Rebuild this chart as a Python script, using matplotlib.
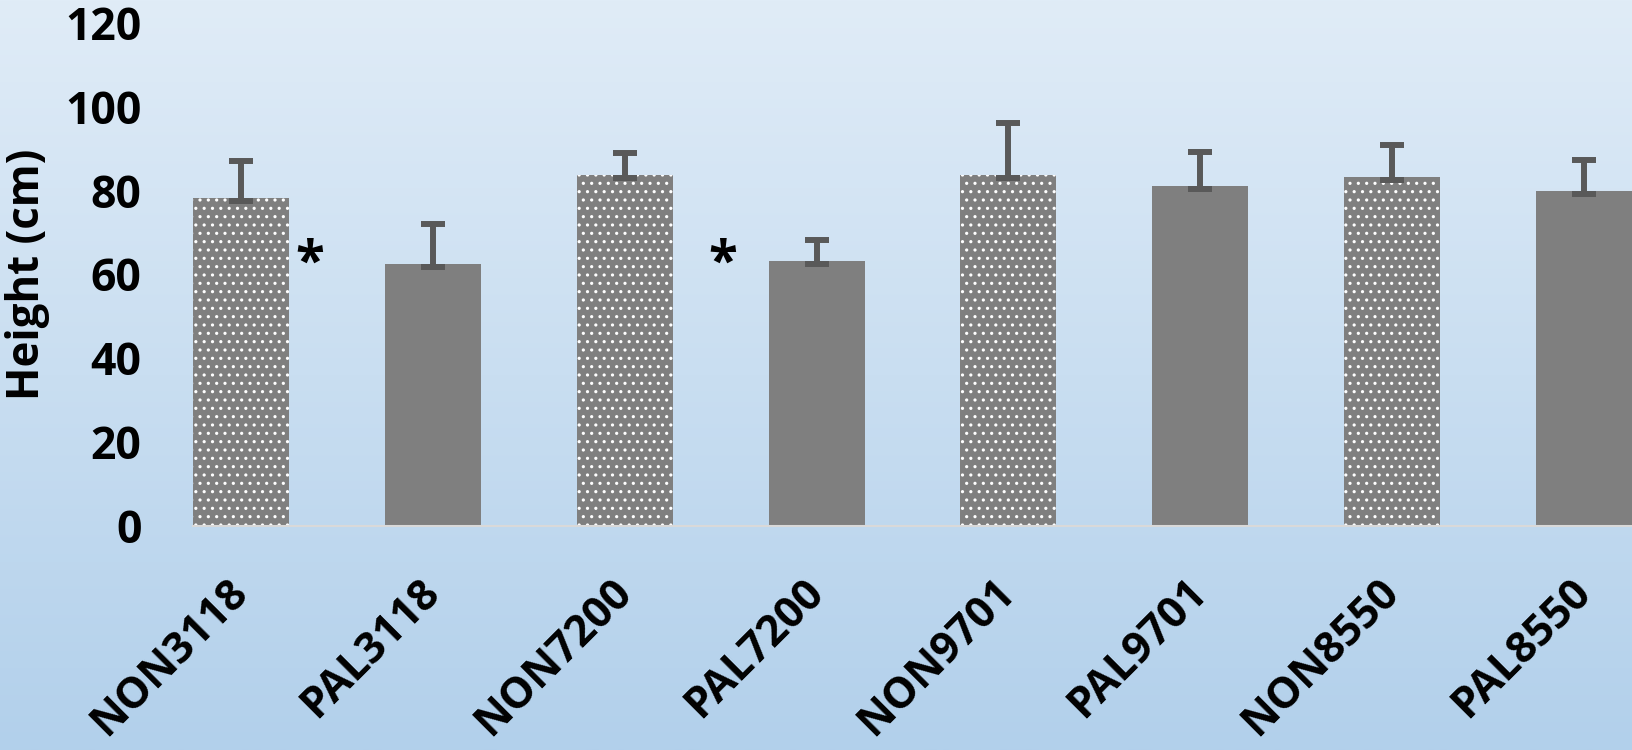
import numpy as np
import matplotlib
matplotlib.use("Agg")
import matplotlib.pyplot as plt

# data
labels = ["NON3118", "PAL3118", "NON7200", "PAL7200", "NON9701", "PAL9701", "NON8550", "PAL8550"]
heights = [78.3, 62.5, 83.8, 63.1, 83.8, 81.1, 83.3, 79.8]
err_up = [8.7, 9.6, 5.2, 5.2, 12.3, 8.0, 7.5, 7.4]
err_down = [0.7, 0.7, 0.7, 0.7, 0.7, 0.7, 0.7, 0.7]
star_x = [0.357, 2.51]
star_y = [62.3, 62.3]

plt.rcParams['font.family'] = ['Open Sans', 'DejaVu Sans']
plt.rcParams['font.weight'] = 'bold'
plt.rcParams['hatch.color'] = 'white'
plt.rcParams['hatch.linewidth'] = 1.1

fig = plt.figure(figsize=(16.32, 7.5), dpi=100)

# gradient background
bg = fig.add_axes([0, 0, 1, 1], zorder=-1)
top = np.array([224, 236, 247]) / 255
bottom = np.array([178, 208, 235]) / 255
t = np.linspace(0, 1, 256)[:, None]
grad = top[None, :] * (1 - t) + bottom[None, :] * t
bg.imshow(grad[:, None, :], aspect='auto', extent=[0, 1, 0, 1])
bg.axis('off')

ax = fig.add_axes([193 / 1632, 1 - 525.7 / 750, 1 - 193 / 1632, (525.7 - 22.9) / 750])
ax.set_facecolor('none')

x = np.arange(len(labels))
for i in range(len(labels)):
    dotted = labels[i].startswith('NON')
    ax.bar(x[i], heights[i], width=0.5, color='#7f7f7f', zorder=2,
           hatch='..' if dotted else None,
           edgecolor='white' if dotted else '#7f7f7f', linewidth=0)

ax.errorbar(x, heights, yerr=[err_down, err_up], fmt='none', ecolor='#595959',
            elinewidth=4.3, capsize=8.6, capthick=4.3, zorder=3)

for sx, sy in zip(star_x, star_y):
    ax.text(sx, sy, '*', fontsize=38, fontweight='bold', ha='center', va='center')

ax.set_xlim(-0.25, 7.25)
ax.set_ylim(0, 120)
ax.set_yticks([0, 20, 40, 60, 80, 100, 120])
ax.tick_params(axis='y', length=0, pad=37, labelsize=32)
ax.tick_params(axis='x', length=0, pad=43, labelsize=31)
ax.set_xticks(x)
ax.set_xticklabels(labels, rotation=45, ha='right', va='center', rotation_mode='anchor')
for lab in ax.get_yticklabels() + ax.get_xticklabels():
    lab.set_fontweight('bold')

for s in ['top', 'right', 'left']:
    ax.spines[s].set_visible(False)
ax.spines['bottom'].set_color('#d9d9d9')
ax.spines['bottom'].set_linewidth(1.5)

ax.set_ylabel('Height (cm)', fontsize=31.5, fontweight='bold')
ax.yaxis.set_label_coords(-(193 - 50) / (1632 - 193), 0.5)

fig.savefig('out.png', dpi=100)
